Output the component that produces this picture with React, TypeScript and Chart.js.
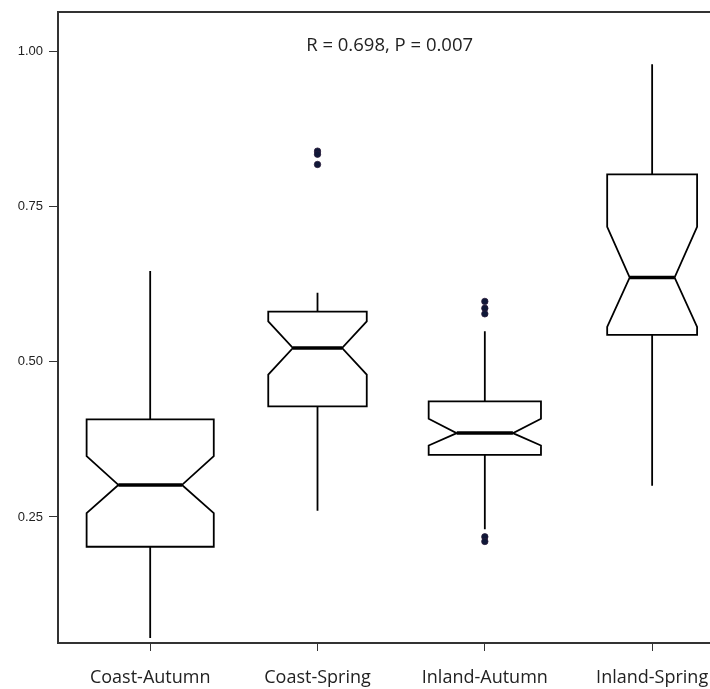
import React, { useEffect, useRef } from "react";
import { Chart, registerables } from "chart.js";

Chart.register(...registerables);

// ---- data ----
const categories = ["Coast-Autumn", "Coast-Spring", "Inland-Autumn", "Inland-Spring"];
const sampleSizes = [50, 30, 39, 25];
const whiskerLow = [0.055, 0.26, 0.23, 0.3];
const q1 = [0.202, 0.428, 0.35, 0.543];
const notchLow = [0.256, 0.479, 0.365, 0.556];
const median = [0.3015, 0.522, 0.385, 0.6355];
const notchHigh = [0.348, 0.565, 0.408, 0.717];
const q3 = [0.407, 0.5805, 0.436, 0.8015];
const whiskerHigh = [0.646, 0.611, 0.549, 0.979];
const outliersCoastAutumn: number[] = [];
const outliersCoastSpring = [0.839, 0.834, 0.8175];
const outliersInlandAutumn = [0.597, 0.586, 0.577, 0.218, 0.2105];
const outliersInlandSpring: number[] = [];
const yTicks = [0.25, 0.5, 0.75, 1.0];
const annotation = "R = 0.698, P = 0.007";

const outlierGroups = [outliersCoastAutumn, outliersCoastSpring, outliersInlandAutumn, outliersInlandSpring];

const BOXWEX = 0.76;
const LABEL_FONT = "'Open Sans', 'Noto Sans', sans-serif";

const boxPlugin = {
  id: "notchedBoxes",
  beforeDatasetsDraw(chart: any) {
    const { ctx, chartArea } = chart;
    const xs = chart.scales.x;
    const ys = chart.scales.y;
    const maxN = Math.max(...sampleSizes);
    ctx.save();
    // top frame line
    ctx.strokeStyle = "#333";
    ctx.lineWidth = 2;
    ctx.beginPath();
    ctx.moveTo(chartArea.left - 1, chartArea.top);
    ctx.lineTo(chartArea.right, chartArea.top);
    ctx.stroke();

    ctx.strokeStyle = "#000";
    ctx.lineJoin = "miter";
    categories.forEach((_, i) => {
      const c = i + 1;
      const hw = (BOXWEX / 2) * Math.sqrt(sampleSizes[i] / maxN);
      const cx = xs.getPixelForValue(c);
      const xl = xs.getPixelForValue(c - hw);
      const xr = xs.getPixelForValue(c + hw);
      const xli = xs.getPixelForValue(c - hw / 2);
      const xri = xs.getPixelForValue(c + hw / 2);
      const yQ1 = ys.getPixelForValue(q1[i]);
      const yQ3 = ys.getPixelForValue(q3[i]);
      const yNL = ys.getPixelForValue(notchLow[i]);
      const yNH = ys.getPixelForValue(notchHigh[i]);
      const yMed = ys.getPixelForValue(median[i]);
      const yWL = ys.getPixelForValue(whiskerLow[i]);
      const yWH = ys.getPixelForValue(whiskerHigh[i]);

      // whiskers
      ctx.lineWidth = 1.8;
      ctx.beginPath();
      ctx.moveTo(cx, yQ3);
      ctx.lineTo(cx, yWH);
      ctx.moveTo(cx, yQ1);
      ctx.lineTo(cx, yWL);
      ctx.stroke();

      // notched box
      ctx.beginPath();
      ctx.moveTo(xl, yQ3);
      ctx.lineTo(xr, yQ3);
      ctx.lineTo(xr, yNH);
      ctx.lineTo(xri, yMed);
      ctx.lineTo(xr, yNL);
      ctx.lineTo(xr, yQ1);
      ctx.lineTo(xl, yQ1);
      ctx.lineTo(xl, yNL);
      ctx.lineTo(xli, yMed);
      ctx.lineTo(xl, yNH);
      ctx.closePath();
      ctx.fillStyle = "#fff";
      ctx.fill();
      ctx.lineWidth = 1.8;
      ctx.stroke();

      // median
      ctx.lineWidth = 3.5;
      ctx.beginPath();
      ctx.moveTo(xli, yMed);
      ctx.lineTo(xri, yMed);
      ctx.stroke();
    });

    // annotation text
    ctx.fillStyle = "#222";
    ctx.font = `18.5px ${LABEL_FONT}`;
    ctx.textAlign = "center";
    ctx.textBaseline = "middle";
    ctx.fillText(annotation, xs.getPixelForValue(2.431), ys.getPixelForValue(1.009));
    ctx.restore();
  },
};

export default function App() {
  const ref = useRef<HTMLCanvasElement | null>(null);

  useEffect(() => {
    if (!ref.current) return;
    const points: { x: number; y: number }[] = [];
    outlierGroups.forEach((g, i) => g.forEach((v) => points.push({ x: i + 1, y: v })));

    const chart = new Chart(ref.current, {
      type: "scatter",
      data: {
        datasets: [
          {
            data: points,
            pointRadius: 3.2,
            pointBackgroundColor: "#0f1838",
            pointBorderColor: "#2a1a3a",
            pointBorderWidth: 0.8,
          },
        ],
      },
      options: {
        animation: false,
        responsive: false,
        devicePixelRatio: 1,
        layout: { padding: { top: 12, right: 0, left: 0, bottom: 0 } },
        plugins: { legend: { display: false }, tooltip: { enabled: false } },
        scales: {
          x: {
            type: "linear",
            min: 0.449,
            max: 4.353,
            afterBuildTicks: (s: any) => {
              s.ticks = categories.map((_, i) => ({ value: i + 1 }));
            },
            afterFit: (s: any) => {
              s.height = 46;
              s.paddingLeft = 0;
              s.paddingRight = 0;
            },
            ticks: {
              autoSkip: false,
              maxRotation: 0,
              padding: 16,
              color: "#222",
              font: { family: LABEL_FONT, size: 18 },
              callback: (v: any) => categories[Math.round(Number(v)) - 1] ?? "",
            },
            grid: { drawOnChartArea: false, drawTicks: true, tickLength: 8, color: "#333", lineWidth: 1 },
            border: { display: true, color: "#333", width: 2 },
          },
          y: {
            type: "linear",
            min: 0.047,
            max: 1.063,
            afterBuildTicks: (s: any) => {
              s.ticks = yTicks.map((v) => ({ value: v }));
            },
            afterFit: (s: any) => {
              s.width = 58;
              s.paddingTop = 0;
              s.paddingBottom = 0;
            },
            ticks: {
              padding: 6,
              color: "#222",
              font: { family: "'Liberation Sans', Arial, sans-serif", size: 13 },
              callback: (v: any) => Number(v).toFixed(2),
            },
            grid: { drawOnChartArea: false, drawTicks: true, tickLength: 9, color: "#333", lineWidth: 1 },
            border: { display: true, color: "#333", width: 2 },
          },
        },
      },
      plugins: [boxPlugin],
    });
    return () => chart.destroy();
  }, []);

  return (
    <div style={{ position: "fixed", left: 0, top: 0, width: 710, height: 689, background: "#fff", overflow: "hidden" }}>
      <canvas ref={ref} width={716} height={689} style={{ display: "block" }} />
    </div>
  );
}
